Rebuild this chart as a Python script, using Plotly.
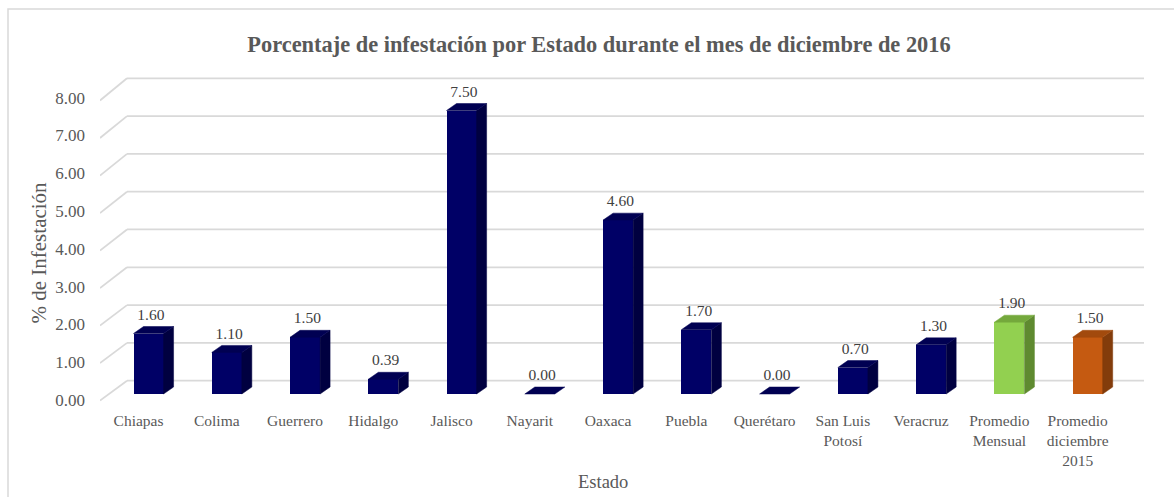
import plotly.graph_objects as go

# ---- data ----
categories = ["Chiapas", "Colima", "Guerrero", "Hidalgo", "Jalisco", "Nayarit", "Oaxaca",
              "Puebla", "Querétaro", "San Luis<br>Potosí", "Veracruz",
              "Promedio<br>Mensual", "Promedio<br>diciembre<br>2015"]
values = [1.60, 1.10, 1.50, 0.39, 7.50, 0.00, 4.60, 1.70, 0.00, 0.70, 1.30, 1.90, 1.50]
value_labels = ["1.60", "1.10", "1.50", "0.39", "7.50", "0.00", "4.60", "1.70", "0.00",
                "0.70", "1.30", "1.90", "1.50"]
y_ticks = [0, 1, 2, 3, 4, 5, 6, 7, 8]
y_ticktext = ["0.00", "1.00", "2.00", "3.00", "4.00", "5.00", "6.00", "7.00", "8.00"]

title = "Porcentaje de infestación por Estado durante el mes de diciembre de 2016"
y_title = "% de Infestación"
x_title = "Estado"

# ---- styling ----
FONT = "Liberation Serif, Times New Roman, serif"
TXT = "#595959"
GRID = "#d9d9d9"
navy = ("#000066", "#000040", "#000052")      # front, side, top
green = ("#92d050", "#5f8a30", "#74a83c")
orange = ("#c55a11", "#833c0b", "#a24a0d")
palette = [navy] * 11 + [green, orange]

W, H = 1174, 497
L, R, T, B = 100, 30, 60, 92
x_range = [-0.62, 12.72]
y_range = [-0.291, 8.836]

bw = 0.384      # bar width (category units)
dx = 0.128      # depth offset x
dy = 0.185      # depth offset y
wall = 0.352    # back wall offset (y units)
wall_x = -0.275
label_pad = 0.08

xs = list(range(len(categories)))

fig = go.Figure()

# front faces
fig.add_trace(go.Bar(
    x=xs, y=values, width=bw,
    marker=dict(color=[p[0] for p in palette], line=dict(width=0)),
    hoverinfo="skip", showlegend=False,
))

# side and top faces (computed from data)
for i, v in zip(xs, values):
    col = palette[i]
    xr = i + bw / 2
    xl = i - bw / 2
    if v > 0:
        fig.add_trace(go.Scatter(
            x=[xr, xr + dx, xr + dx, xr, xr], y=[0, dy, v + dy, v, 0],
            mode="lines", fill="toself", fillcolor=col[1],
            line=dict(width=0.5, color=col[1]), hoverinfo="skip", showlegend=False))
    fig.add_trace(go.Scatter(
        x=[xl, xr, xr + dx, xl + dx, xl], y=[v, v, v + dy, v + dy, v],
        mode="lines", fill="toself", fillcolor=col[2],
        line=dict(width=0.5, color=col[2]), hoverinfo="skip", showlegend=False))

# data labels
fig.add_trace(go.Scatter(
    x=[i + 0.03 for i in xs], y=[v + dy + label_pad for v in values], text=value_labels,
    mode="text", textposition="top center",
    textfont=dict(family=FONT, size=15.5, color="#404040"),
    hoverinfo="skip", showlegend=False))

# 3D gridlines (back wall + left floor diagonal)
shapes = []
for t in y_ticks:
    yb = t + wall
    yf = (37.5 * t - 6.5) / 37.8
    shapes.append(dict(type="line", xref="x", yref="y", x0=wall_x, x1=x_range[1],
                       y0=yb, y1=yb, line=dict(color=GRID, width=1.75), layer="below"))
    shapes.append(dict(type="line", xref="x", yref="y", x0=x_range[0], x1=wall_x,
                       y0=yf, y1=yb, line=dict(color=GRID, width=1.75), layer="below"))

# outer chart border
pw, ph = W - L - R, H - T - B
shapes.append(dict(type="rect", xref="paper", yref="paper",
                   x0=(8 - L) / pw, x1=(W + 20 - L) / pw,
                   y0=(H - B - (H + 20)) / ph, y1=(H - B - 9) / ph,
                   line=dict(color=GRID, width=1.5), fillcolor="rgba(0,0,0,0)", layer="below"))

fig.update_layout(
    width=W, height=H,
    margin=dict(l=L, r=R, t=T, b=B),
    paper_bgcolor="white", plot_bgcolor="white",
    font=dict(family=FONT, color=TXT),
    title=dict(text="<b>" + title + "</b>", x=599 / W, xanchor="center",
               y=1 - 44 / H, yanchor="middle", xref="container", yref="container",
               font=dict(family=FONT, size=22.4, color=TXT)),
    xaxis=dict(range=x_range, tickvals=xs, ticktext=categories, showgrid=False,
               zeroline=False, showline=False, ticks="", ticklabelshift=-10,
               ticklabelstandoff=4,
               tickfont=dict(family=FONT, size=15.5, color=TXT), fixedrange=True),
    yaxis=dict(range=y_range, tickvals=y_ticks, ticktext=y_ticktext, showgrid=False,
               zeroline=False, showline=False, ticks="", ticklabelshift=6,
               ticklabelstandoff=14,
               tickfont=dict(family=FONT, size=17, color=TXT), fixedrange=True),
    shapes=shapes,
    bargap=0,
    annotations=[
        dict(text=y_title, textangle=-90, xref="paper", yref="paper",
             x=(38 - L) / pw, y=(H - B - 252.5) / ph, xanchor="center", yanchor="middle",
             showarrow=False, font=dict(family=FONT, size=21, color=TXT)),
        dict(text=x_title, xref="paper", yref="paper",
             x=(603 - L) / pw, y=(H - B - 482) / ph, xanchor="center", yanchor="middle",
             showarrow=False, font=dict(family=FONT, size=18.5, color=TXT)),
    ],
)

fig.write_html("out.html", config={"displayModeBar": False},
               post_script="document.body.style.margin='0px';document.body.style.overflow='hidden';")
